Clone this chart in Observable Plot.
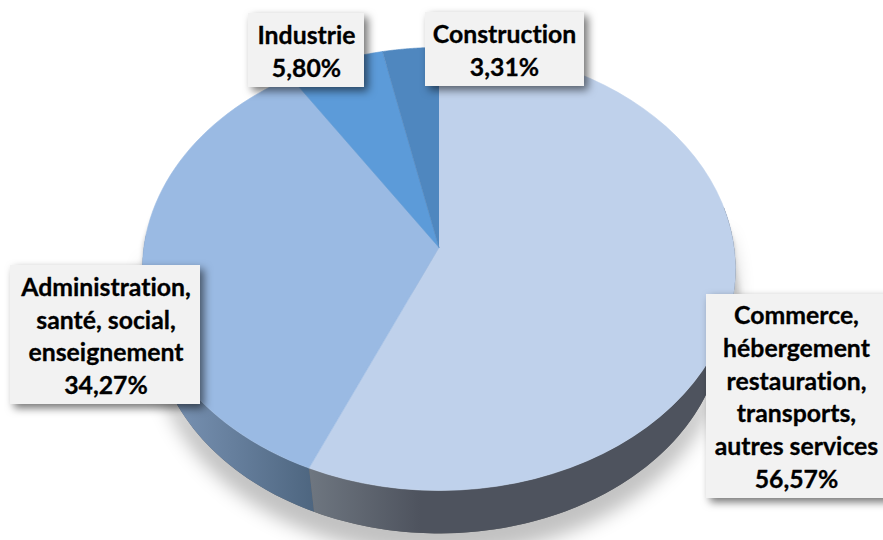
<!DOCTYPE html>
<html lang="fr">
<head>
<meta charset="utf-8">
<script src="https://cdn.jsdelivr.net/npm/d3@7"></script>
<script src="https://cdn.jsdelivr.net/npm/@observablehq/plot@0.6"></script>
<style>
html,body{margin:0;padding:0;background:#fff;overflow:hidden}
svg{display:block}
svg text{font-variant-ligatures:none;font-feature-settings:"liga" 0}
</style>
</head>
<body>
<div id="chart"></div>
<script>
// Data (clockwise from 12 o'clock)
const sectors = ["Commerce", "Administration", "Industrie", "Construction"];
const shares = [56.57, 34.27, 5.80, 3.31];
const labelLines = [
  "Commerce,\nhébergement\nrestauration,\ntransports,\nautres services",
  "Administration,\nsanté, social,\nenseignement",
  "Industrie",
  "Construction"
];
const shareLabels = ["56,57%", "34,27%", "5,80%", "3,31%"];

// Style and layout, kept apart from the data
const topColors = ["#bfd1eb", "#9abae3", "#5c9bd9", "#4f87bf"];
const boxes = [
  {x1: 706, x2: 890, y1: 294, y2: 498, tx: 796, ty: 395},
  {x1: 10, x2: 200, y1: 265, y2: 404, tx: 105.5, ty: 334},
  {x1: 248, x2: 364, y1: 13, y2: 87, tx: 306, ty: 49.5},
  {x1: 425, x2: 584, y1: 12, y2: 86, tx: 504, ty: 48.5}
];

// Perspective view of the disc
const view = {cx: 438.5, cy: 268.5, rx: 296.5, ry: 221.5, apexY: 247, sideScale: 0.9612, sideCy: 320};
const tilt = (view.apexY - view.cy) / view.ry;
const rimTop = (share) => {
  const a = 2 * Math.PI * share / 100;
  const u = Math.sin(a), v = -Math.cos(a);
  const w = 1 + tilt * v;
  return [
    view.cx + u * view.rx * Math.sqrt(1 - tilt * tilt) / w,
    view.cy + (v + tilt) * view.ry / w
  ];
};
const rimBottom = (share) => {
  const [x, y] = rimTop(share);
  return [view.cx + (x - view.cx) * view.sideScale, view.sideCy + (y - view.cy) * view.sideScale];
};
const sweep = (a, b) => d3.range(0, 61).map(i => a + (b - a) * i / 60);

const ends = Array.from(d3.cumsum(shares));
const starts = [0, ...ends.slice(0, -1)];
ends[ends.length - 1] = 100;

const wedges = sectors.map((s, i) => [
  [view.cx, view.apexY],
  ...sweep(starts[i], ends[i]).map(rimTop)
]);
// Visible side walls: commerce from the right edge, administration to the left edge
const wall = (a, b) => [...sweep(a, b).map(rimTop), ...sweep(b, a).map(rimBottom)];
const wallCommerce = wall(22, ends[0]);
const wallAdmin = wall(ends[0], 76);
const wallWhole = wall(22, 76);

// Narrow shadow sliver along the flanks of the disc
const ellipsePoints = (cx, cy, rx, ry) => d3.range(0, 181).map(i => {
  const a = 2 * Math.PI * i / 180;
  return [cx + rx * Math.sin(a), cy + ry * Math.cos(a)];
});
const shadowSliver = ellipsePoints(438, 292, 302, 230)
  .filter(d => d[1] < 335)
  .sort((p, q) => p[0] - q[0]);

const defs = () => {
  const d = d3.create("svg:defs");
  const grad = (id, x1, x2, stops) => {
    const g = d.append("linearGradient").attr("id", id)
      .attr("gradientUnits", "userSpaceOnUse")
      .attr("x1", x1).attr("x2", x2).attr("y1", 0).attr("y2", 0);
    stops.forEach(([o, c]) => g.append("stop").attr("offset", o).attr("stop-color", c));
  };
  grad("sideAdmin", 150, 312, [[0, "#7f99bb"], [1, "#4e6680"]]);
  grad("sideCommerce", 310, 420, [[0, "#6e7680"], [1, "#4e535e"]]);
  return d.node();
};

const poly = (pts, fill, extra = {}) =>
  Plot.line(pts, {x: d => d[0], y: d => d[1], fill, stroke: "none", ...extra});

const chart = Plot.plot({
  width: 883,
  height: 540,
  margin: 0,
  x: {domain: [0, 883], range: [0, 883], axis: null},
  y: {domain: [0, 540], range: [0, 540], axis: null},
  style: {background: "#fff", fontFamily: "Lato, 'Open Sans', sans-serif"},
  marks: [
    defs,
    poly(shadowSliver, "#000", {fillOpacity: 0.2, imageFilter: "blur(2px)"}),
    poly(wallWhole, "#666", {imageFilter: "drop-shadow(0px 22px 9px rgba(0,0,0,0.24))"}),
    poly(wallAdmin, "url(#sideAdmin)"),
    poly(wallCommerce, "url(#sideCommerce)"),
    ...wedges.map((pts, i) => Plot.line(pts, {
      x: d => d[0], y: d => d[1], fill: topColors[i], stroke: topColors[i], strokeWidth: 0.6
    })),
    Plot.rect(boxes, {
      x1: "x1", x2: "x2", y1: "y1", y2: "y2", fill: "#f2f2f2",
      imageFilter: "drop-shadow(4px 4px 4px rgba(0,0,0,0.55))"
    }),
    Plot.text(boxes, {
      x: "tx", y: "ty",
      text: (d, i) => labelLines[i] + "\n" + shareLabels[i],
      fontSize: 24.8,
      fontWeight: 700,
      lineHeight: 1.32,
      fill: "#000",
      stroke: "#000",
      strokeWidth: 0.3,
      textAnchor: "middle"
    })
  ]
});
document.getElementById("chart").append(chart);
</script>
</body>
</html>
